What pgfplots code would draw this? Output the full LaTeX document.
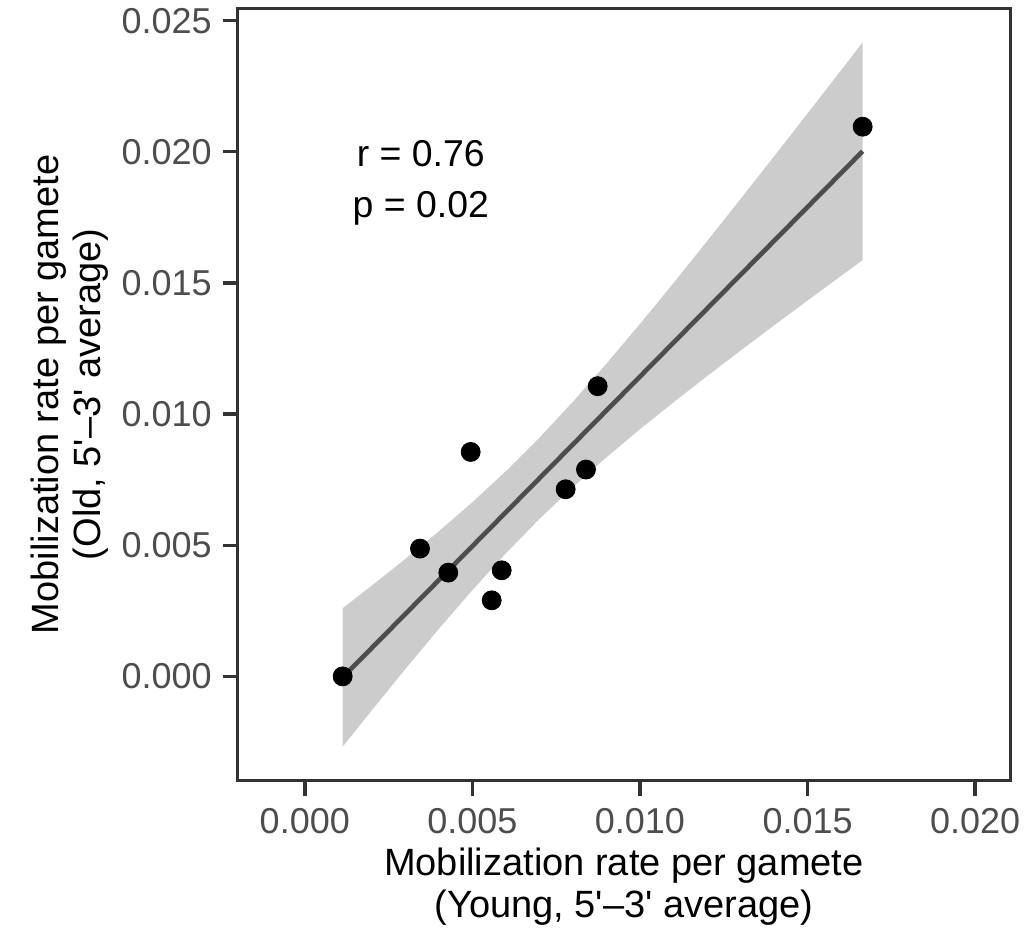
\documentclass[border=0pt]{standalone}
\usepackage{fontspec}
\setmainfont{Liberation Sans}[Ligatures=TeXOff]
\usepackage{pgfplots}
\pgfplotsset{compat=1.18}
\usetikzlibrary{calc}
\definecolor{axisgray}{HTML}{333333}
\definecolor{ticktext}{HTML}{4D4D4D}
\definecolor{bandgray}{HTML}{CCCCCC}
\definecolor{fitgray}{HTML}{4D4D4D}

\begin{document}
\begin{tikzpicture}
\begin{axis}[
    name=ax,
    scale only axis,
    width=386pt, height=386pt,
    xmin=-0.002, xmax=0.02104,
    ymin=-0.00397, ymax=0.02547,
    xtick={0,0.005,0.010,0.015,0.020},
    xticklabels={0.000,0.005,0.010,0.015,0.020},
    ytick={0,0.005,0.010,0.015,0.020,0.025},
    yticklabels={0.000,0.005,0.010,0.015,0.020,0.025},
    scaled ticks=false,
    tick align=outside,
    xtick pos=bottom, ytick pos=left,
    major tick length=7.5pt,
    tick style={line width=1.7pt, color=axisgray},
    axis line style={line width=1.5pt, color=axisgray},
    ticklabel style={font=\fontsize{18}{21}\selectfont, text=ticktext},
    xticklabel style={yshift=-3pt},
    yticklabel style={xshift=-2pt},
    xlabel={Mobilization rate per gamete\\(Young, 5'–3' average)},
    ylabel={Mobilization rate per gamete\\(Old, 5'–3' average)},
    xlabel style={at={(axis description cs:0.5,-0.137)}, anchor=center,
        align=center, font=\fontsize{19}{21}\selectfont},
    ylabel style={at={(axis description cs:-0.218,0.5)}, anchor=center,
        align=center, font=\fontsize{19}{21}\selectfont},
]
% confidence band of the linear fit
\addplot[fill=bandgray, draw=none] coordinates {
    (0.00113,0.00260) (0.002,0.003464) (0.003,0.004478) (0.004,0.005531)
    (0.005,0.006640) (0.006,0.007824) (0.007,0.009100) (0.008,0.010470)
    (0.009,0.011922) (0.010,0.013437) (0.011,0.014997) (0.012,0.016587)
    (0.013,0.018199) (0.014,0.019825) (0.015,0.021462) (0.016,0.023107)
    (0.016644,0.02417)
    (0.016644,0.01587) (0.016,0.015269) (0.015,0.014328) (0.014,0.013379)
    (0.013,0.012419) (0.012,0.011445) (0.011,0.010449) (0.010,0.009423)
    (0.009,0.008352) (0.008,0.007218) (0.007,0.006002) (0.006,0.004692)
    (0.005,0.003290) (0.004,0.001813) (0.003,0.000280) (0.002,-0.001292)
    (0.00113,-0.00268)
};
% fitted line
\addplot[fitgray, line width=2.3pt] coordinates {
    (0.00113,-0.000039) (0.016644,0.020021)
};
% observations
\addplot[only marks, mark=*, mark size=4.75pt, black] coordinates {
    (0.00113,0.0000) (0.003437,0.004872) (0.004281,0.003956)
    (0.004949,0.008557) (0.005576,0.002900) (0.005874,0.004044)
    (0.007783,0.007134) (0.008389,0.007886) (0.008738,0.011064)
    (0.016644,0.020956)
};
\node[anchor=base, font=\fontsize{18.7}{22}\selectfont] at (axis cs:0.00346,0.019457) {r = 0.76};
\node[anchor=base, font=\fontsize{18.7}{22}\selectfont] at (axis cs:0.00346,0.017511) {p = 0.02};
\end{axis}
\path ($(ax.south west)+(-118.85pt,-79pt)$) rectangle ($(ax.north east)+(11.5pt,4.15pt)$);
\end{tikzpicture}
\end{document}
